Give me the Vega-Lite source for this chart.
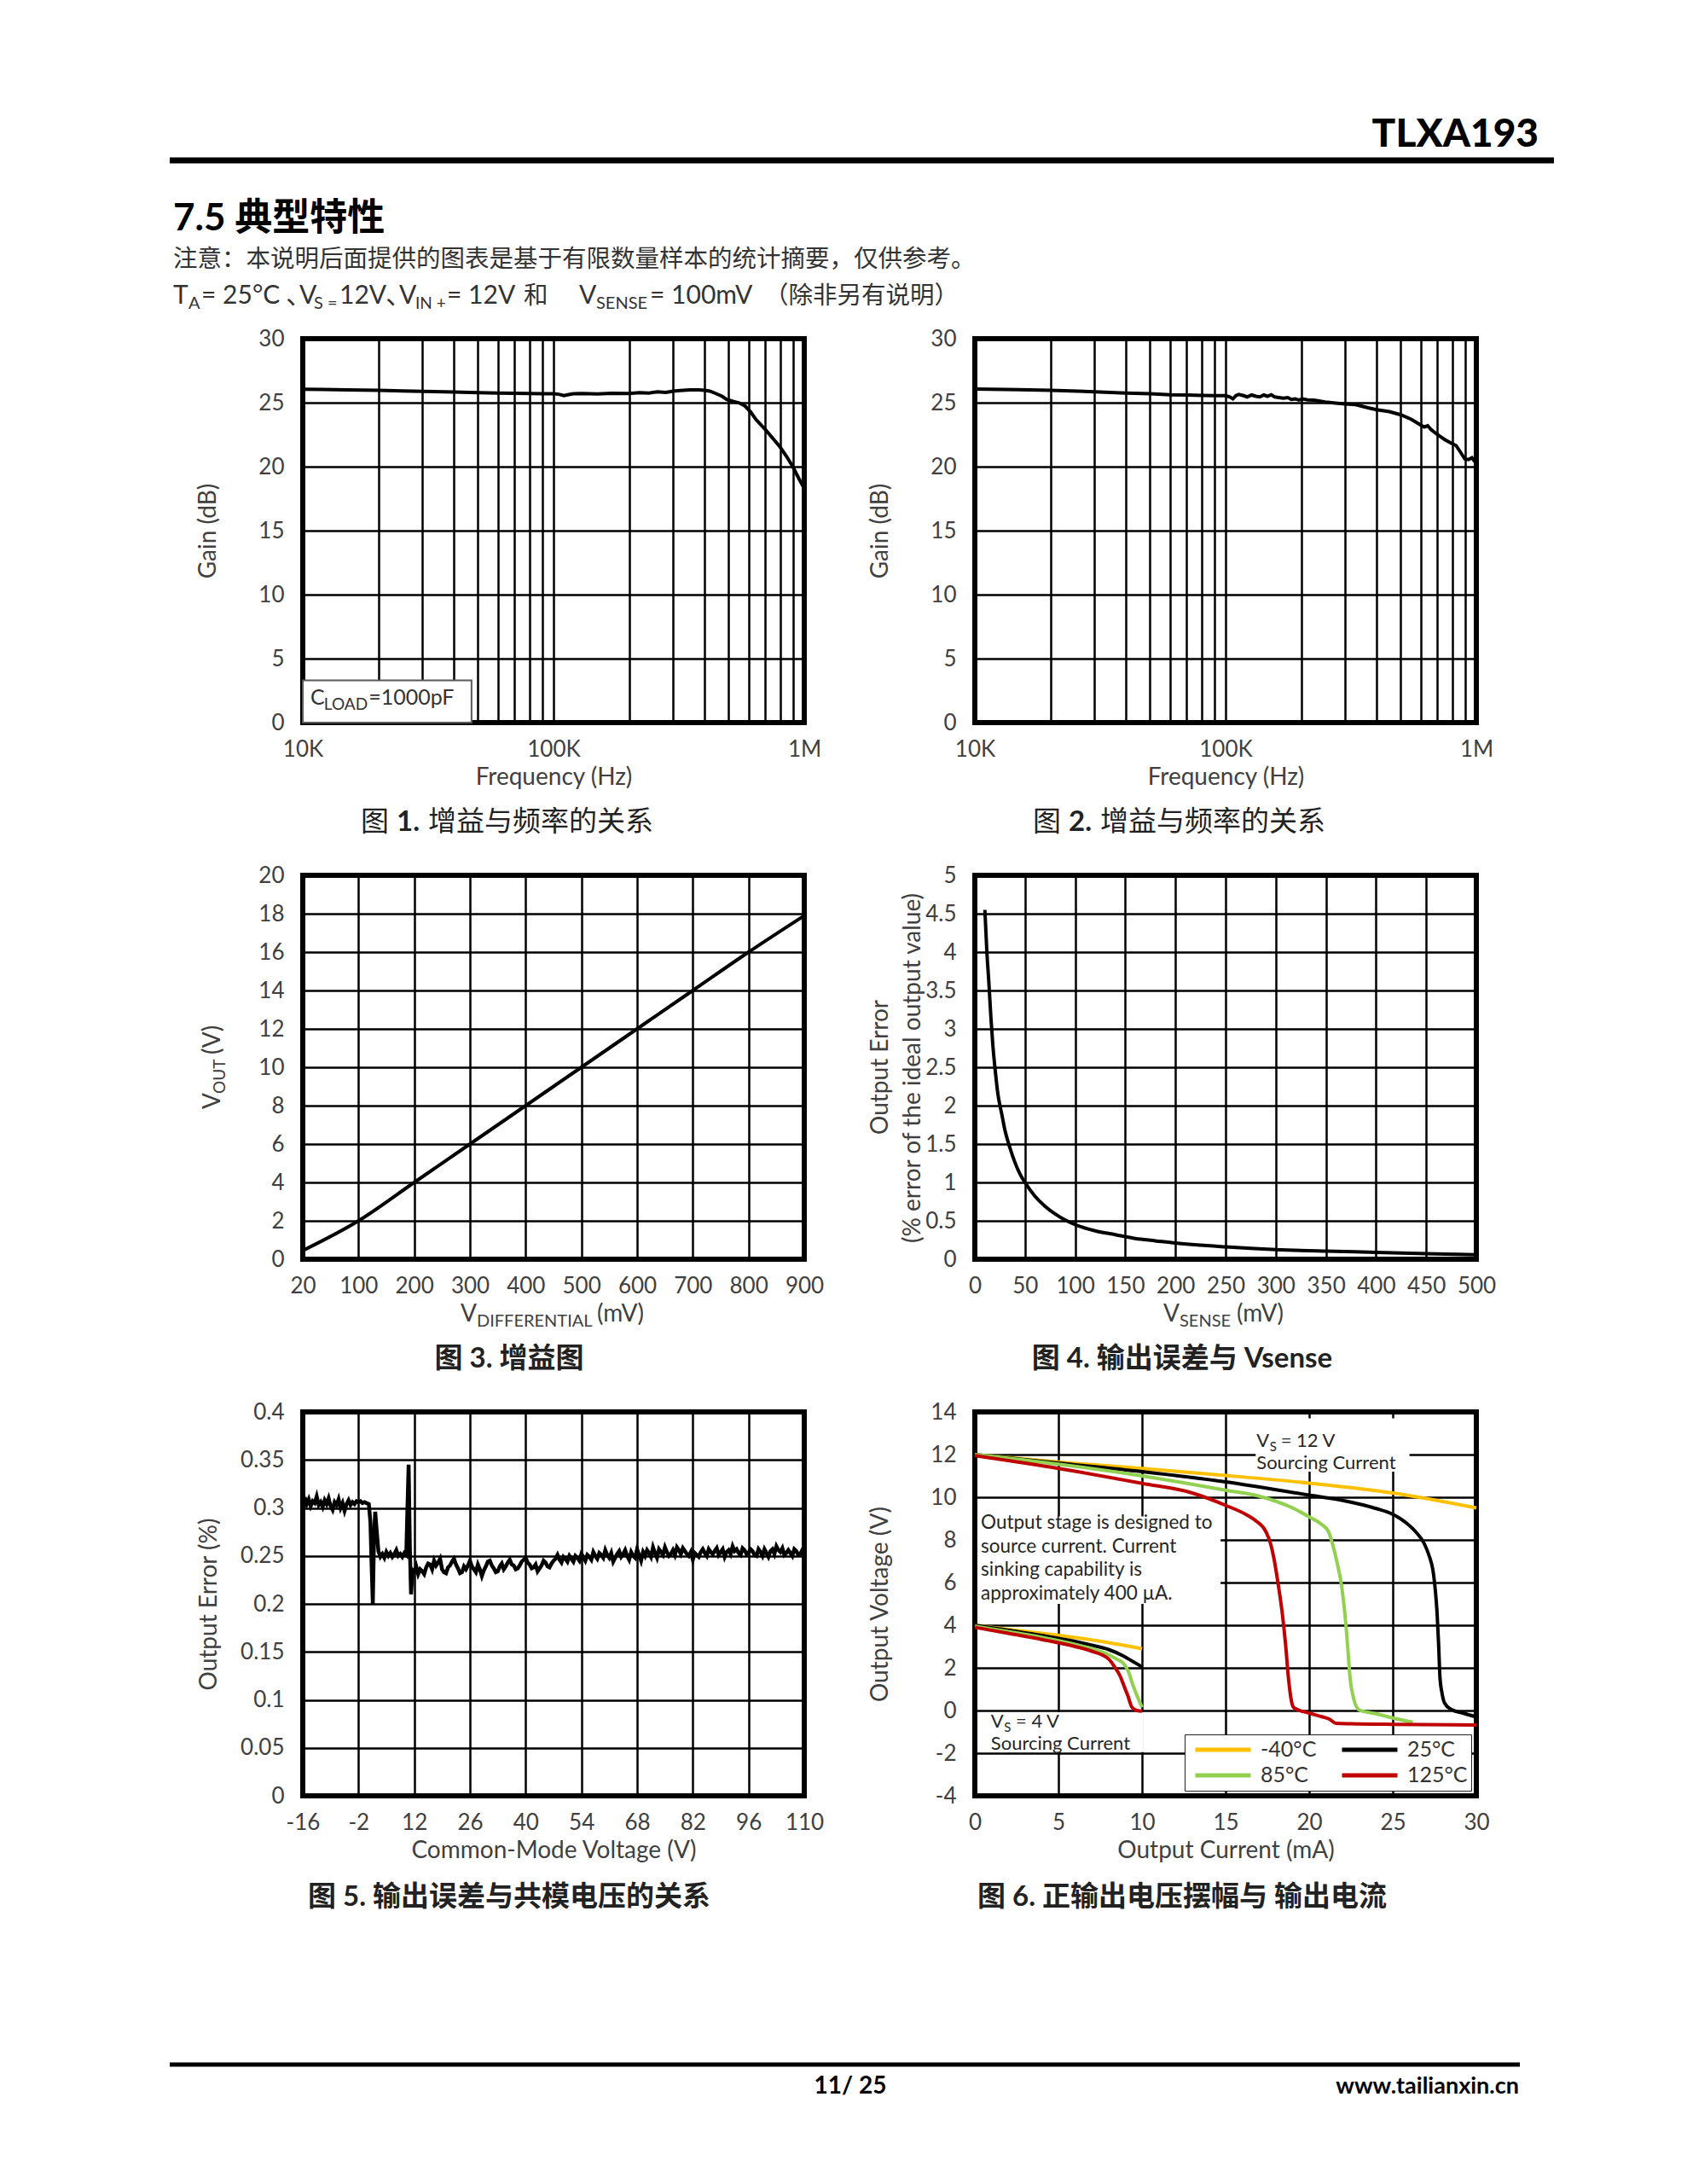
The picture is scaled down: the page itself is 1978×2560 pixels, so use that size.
{
 "$schema": "https://vega.github.io/schema/vega-lite/v6.json",
 "background": "white",
 "autosize": {"type": "none"},
 "padding": {"left": 355, "top": 397, "right": 1623, "bottom": 2163},
 "bounds": "flush",
 "columns": 2,
 "spacing": {"row": 179, "column": 200},
 "resolve": {"scale": {"color": "independent"}, "legend": {"color": "independent"}},
 "config": {
  "font": "Lato, Noto Sans CJK SC",
  "view": {"stroke": "black", "strokeWidth": 6},
  "axis": {"grid": true, "gridColor": "black", "gridWidth": 2.5, "gridOpacity": 1, "domain": false, "ticks": false, "tickSize": 0, "labelFont": "Lato", "labelFontSize": 26, "labelColor": "#404040", "labelPadding": 22, "labelOverlap": false, "labelFlush": false, "labelBound": false, "titleFont": "Lato", "titleFontSize": 28, "titleColor": "#404040", "titleFontWeight": "normal", "titlePadding": 0},
  "axisX": {"labelPadding": 18, "titlePadding": 6},
  "legend": {"labelFont": "Lato"}
 },
 "datasets": {
  "fig1": [{"frequency_hz":10000,"gain_db":26.05},{"frequency_hz":12000,"gain_db":26.03},{"frequency_hz":15000,"gain_db":26.0},{"frequency_hz":20000,"gain_db":25.97},{"frequency_hz":25000,"gain_db":25.92},{"frequency_hz":30000,"gain_db":25.88},{"frequency_hz":40000,"gain_db":25.83},{"frequency_hz":50000,"gain_db":25.78},{"frequency_hz":60000,"gain_db":25.75},{"frequency_hz":70000,"gain_db":25.73},{"frequency_hz":80000,"gain_db":25.72},{"frequency_hz":90000,"gain_db":25.7},{"frequency_hz":100000,"gain_db":25.7},{"frequency_hz":105000,"gain_db":25.66},{"frequency_hz":110000,"gain_db":25.55},{"frequency_hz":115000,"gain_db":25.63},{"frequency_hz":120000,"gain_db":25.7},{"frequency_hz":130000,"gain_db":25.72},{"frequency_hz":150000,"gain_db":25.69},{"frequency_hz":170000,"gain_db":25.74},{"frequency_hz":200000,"gain_db":25.72},{"frequency_hz":220000,"gain_db":25.78},{"frequency_hz":240000,"gain_db":25.75},{"frequency_hz":260000,"gain_db":25.85},{"frequency_hz":280000,"gain_db":25.8},{"frequency_hz":300000,"gain_db":25.9},{"frequency_hz":320000,"gain_db":25.95},{"frequency_hz":350000,"gain_db":26.0},{"frequency_hz":380000,"gain_db":26.0},{"frequency_hz":400000,"gain_db":25.97},{"frequency_hz":420000,"gain_db":25.9},{"frequency_hz":440000,"gain_db":25.75},{"frequency_hz":470000,"gain_db":25.5},{"frequency_hz":490000,"gain_db":25.25},{"frequency_hz":520000,"gain_db":25.1},{"frequency_hz":550000,"gain_db":24.98},{"frequency_hz":580000,"gain_db":24.75},{"frequency_hz":610000,"gain_db":24.3},{"frequency_hz":643000,"gain_db":23.66},{"frequency_hz":700000,"gain_db":22.9},{"frequency_hz":750000,"gain_db":22.2},{"frequency_hz":800000,"gain_db":21.55},{"frequency_hz":850000,"gain_db":20.8},{"frequency_hz":900000,"gain_db":20.0},{"frequency_hz":950000,"gain_db":19.1},{"frequency_hz":1000000,"gain_db":18.3}],
  "fig2": [{"frequency_hz":10000,"gain_db":26.07},{"frequency_hz":15000,"gain_db":26.02},{"frequency_hz":20000,"gain_db":25.97},{"frequency_hz":30000,"gain_db":25.85},{"frequency_hz":40000,"gain_db":25.75},{"frequency_hz":50000,"gain_db":25.7},{"frequency_hz":60000,"gain_db":25.62},{"frequency_hz":70000,"gain_db":25.6},{"frequency_hz":80000,"gain_db":25.57},{"frequency_hz":90000,"gain_db":25.55},{"frequency_hz":100000,"gain_db":25.55},{"frequency_hz":104000,"gain_db":25.45},{"frequency_hz":107000,"gain_db":25.3},{"frequency_hz":110000,"gain_db":25.55},{"frequency_hz":113000,"gain_db":25.65},{"frequency_hz":118000,"gain_db":25.55},{"frequency_hz":122000,"gain_db":25.45},{"frequency_hz":127000,"gain_db":25.6},{"frequency_hz":132000,"gain_db":25.5},{"frequency_hz":137000,"gain_db":25.45},{"frequency_hz":142000,"gain_db":25.6},{"frequency_hz":147000,"gain_db":25.5},{"frequency_hz":152000,"gain_db":25.62},{"frequency_hz":157000,"gain_db":25.45},{"frequency_hz":163000,"gain_db":25.4},{"frequency_hz":170000,"gain_db":25.35},{"frequency_hz":177000,"gain_db":25.4},{"frequency_hz":183000,"gain_db":25.25},{"frequency_hz":190000,"gain_db":25.3},{"frequency_hz":196000,"gain_db":25.2},{"frequency_hz":203000,"gain_db":25.3},{"frequency_hz":212000,"gain_db":25.22},{"frequency_hz":225000,"gain_db":25.2},{"frequency_hz":250000,"gain_db":25.05},{"frequency_hz":280000,"gain_db":24.95},{"frequency_hz":300000,"gain_db":24.9},{"frequency_hz":330000,"gain_db":24.85},{"frequency_hz":370000,"gain_db":24.6},{"frequency_hz":400000,"gain_db":24.45},{"frequency_hz":450000,"gain_db":24.3},{"frequency_hz":500000,"gain_db":24.05},{"frequency_hz":550000,"gain_db":23.7},{"frequency_hz":600000,"gain_db":23.25},{"frequency_hz":620000,"gain_db":23.1},{"frequency_hz":640000,"gain_db":23.2},{"frequency_hz":660000,"gain_db":22.9},{"frequency_hz":700000,"gain_db":22.5},{"frequency_hz":750000,"gain_db":22.1},{"frequency_hz":800000,"gain_db":21.8},{"frequency_hz":830000,"gain_db":21.65},{"frequency_hz":860000,"gain_db":21.2},{"frequency_hz":900000,"gain_db":20.6},{"frequency_hz":930000,"gain_db":20.55},{"frequency_hz":960000,"gain_db":20.7},{"frequency_hz":1000000,"gain_db":20.25}],
  "fig3": [{"v_diff_mv":20,"vout_v":0.45},{"v_diff_mv":100,"vout_v":2.0},{"v_diff_mv":200,"vout_v":4.0},{"v_diff_mv":300,"vout_v":6.0},{"v_diff_mv":400,"vout_v":8.0},{"v_diff_mv":500,"vout_v":10.0},{"v_diff_mv":600,"vout_v":12.0},{"v_diff_mv":700,"vout_v":14.0},{"v_diff_mv":800,"vout_v":16.0},{"v_diff_mv":900,"vout_v":17.9}],
  "fig4": [{"vsense_mv":10,"error_pct":4.55},{"vsense_mv":12,"error_pct":4.0},{"vsense_mv":14,"error_pct":3.6},{"vsense_mv":16,"error_pct":3.15},{"vsense_mv":18,"error_pct":2.78},{"vsense_mv":20,"error_pct":2.5},{"vsense_mv":23,"error_pct":2.15},{"vsense_mv":27,"error_pct":1.88},{"vsense_mv":30,"error_pct":1.68},{"vsense_mv":35,"error_pct":1.45},{"vsense_mv":40,"error_pct":1.26},{"vsense_mv":45,"error_pct":1.11},{"vsense_mv":50,"error_pct":1.0},{"vsense_mv":60,"error_pct":0.82},{"vsense_mv":70,"error_pct":0.69},{"vsense_mv":80,"error_pct":0.59},{"vsense_mv":90,"error_pct":0.51},{"vsense_mv":100,"error_pct":0.45},{"vsense_mv":120,"error_pct":0.37},{"vsense_mv":140,"error_pct":0.32},{"vsense_mv":160,"error_pct":0.27},{"vsense_mv":180,"error_pct":0.24},{"vsense_mv":200,"error_pct":0.21},{"vsense_mv":250,"error_pct":0.16},{"vsense_mv":300,"error_pct":0.125},{"vsense_mv":350,"error_pct":0.105},{"vsense_mv":400,"error_pct":0.09},{"vsense_mv":450,"error_pct":0.073},{"vsense_mv":500,"error_pct":0.058}],
  "fig5": [{"cm_v":-16,"error_pct":0.3},{"cm_v":-15.5,"error_pct":0.311},{"cm_v":-15,"error_pct":0.304},{"cm_v":-14.5,"error_pct":0.309},{"cm_v":-14,"error_pct":0.302},{"cm_v":-13.5,"error_pct":0.307},{"cm_v":-13,"error_pct":0.305},{"cm_v":-12.5,"error_pct":0.312},{"cm_v":-12,"error_pct":0.303},{"cm_v":-11.5,"error_pct":0.306},{"cm_v":-11,"error_pct":0.301},{"cm_v":-10.5,"error_pct":0.308},{"cm_v":-10,"error_pct":0.304},{"cm_v":-9.5,"error_pct":0.31},{"cm_v":-9,"error_pct":0.302},{"cm_v":-8.5,"error_pct":0.298},{"cm_v":-8,"error_pct":0.306},{"cm_v":-7.5,"error_pct":0.303},{"cm_v":-7,"error_pct":0.309},{"cm_v":-6.5,"error_pct":0.3},{"cm_v":-6,"error_pct":0.305},{"cm_v":-5.5,"error_pct":0.297},{"cm_v":-5,"error_pct":0.304},{"cm_v":-4.5,"error_pct":0.308},{"cm_v":-4,"error_pct":0.303},{"cm_v":-3.5,"error_pct":0.306},{"cm_v":-3,"error_pct":0.304},{"cm_v":-2.5,"error_pct":0.307},{"cm_v":-2,"error_pct":0.306},{"cm_v":-1.5,"error_pct":0.307},{"cm_v":-1,"error_pct":0.305},{"cm_v":-0.5,"error_pct":0.306},{"cm_v":0,"error_pct":0.305},{"cm_v":0.6,"error_pct":0.304},{"cm_v":1.0,"error_pct":0.285},{"cm_v":1.3,"error_pct":0.24},{"cm_v":1.6,"error_pct":0.2},{"cm_v":1.9,"error_pct":0.27},{"cm_v":2.2,"error_pct":0.296},{"cm_v":2.6,"error_pct":0.275},{"cm_v":3.0,"error_pct":0.255},{"cm_v":3.5,"error_pct":0.249},{"cm_v":4,"error_pct":0.252},{"cm_v":4.5,"error_pct":0.248},{"cm_v":5,"error_pct":0.254},{"cm_v":5.5,"error_pct":0.25},{"cm_v":6,"error_pct":0.253},{"cm_v":6.5,"error_pct":0.249},{"cm_v":7,"error_pct":0.252},{"cm_v":7.5,"error_pct":0.256},{"cm_v":8,"error_pct":0.25},{"cm_v":8.5,"error_pct":0.252},{"cm_v":9,"error_pct":0.249},{"cm_v":9.5,"error_pct":0.253},{"cm_v":10,"error_pct":0.251},{"cm_v":10.3,"error_pct":0.3},{"cm_v":10.6,"error_pct":0.345},{"cm_v":10.9,"error_pct":0.26},{"cm_v":11.2,"error_pct":0.21},{"cm_v":11.6,"error_pct":0.235},{"cm_v":12,"error_pct":0.233},{"cm_v":12.5,"error_pct":0.239},{"cm_v":13,"error_pct":0.231},{"cm_v":13.5,"error_pct":0.236},{"cm_v":14,"error_pct":0.234},{"cm_v":14.5,"error_pct":0.231},{"cm_v":15,"error_pct":0.238},{"cm_v":15.5,"error_pct":0.242},{"cm_v":16,"error_pct":0.241},{"cm_v":16.5,"error_pct":0.236},{"cm_v":17,"error_pct":0.245},{"cm_v":17.5,"error_pct":0.24},{"cm_v":18,"error_pct":0.243},{"cm_v":18.5,"error_pct":0.247},{"cm_v":19,"error_pct":0.236},{"cm_v":19.5,"error_pct":0.233},{"cm_v":20,"error_pct":0.232},{"cm_v":20.5,"error_pct":0.238},{"cm_v":21,"error_pct":0.24},{"cm_v":21.5,"error_pct":0.244},{"cm_v":22,"error_pct":0.247},{"cm_v":22.5,"error_pct":0.241},{"cm_v":23,"error_pct":0.237},{"cm_v":23.5,"error_pct":0.232},{"cm_v":24,"error_pct":0.233},{"cm_v":24.5,"error_pct":0.239},{"cm_v":25,"error_pct":0.236},{"cm_v":25.5,"error_pct":0.24},{"cm_v":26,"error_pct":0.245},{"cm_v":26.5,"error_pct":0.239},{"cm_v":27,"error_pct":0.236},{"cm_v":27.5,"error_pct":0.233},{"cm_v":28,"error_pct":0.241},{"cm_v":28.5,"error_pct":0.236},{"cm_v":29,"error_pct":0.229},{"cm_v":29.5,"error_pct":0.235},{"cm_v":30,"error_pct":0.239},{"cm_v":30.5,"error_pct":0.244},{"cm_v":31,"error_pct":0.245},{"cm_v":31.5,"error_pct":0.24},{"cm_v":32,"error_pct":0.237},{"cm_v":32.5,"error_pct":0.233},{"cm_v":33,"error_pct":0.234},{"cm_v":33.5,"error_pct":0.239},{"cm_v":34,"error_pct":0.242},{"cm_v":34.5,"error_pct":0.236},{"cm_v":35,"error_pct":0.239},{"cm_v":35.5,"error_pct":0.243},{"cm_v":36,"error_pct":0.246},{"cm_v":36.5,"error_pct":0.241},{"cm_v":37,"error_pct":0.24},{"cm_v":37.5,"error_pct":0.236},{"cm_v":38,"error_pct":0.237},{"cm_v":38.5,"error_pct":0.24},{"cm_v":39,"error_pct":0.244},{"cm_v":39.5,"error_pct":0.246},{"cm_v":40,"error_pct":0.248},{"cm_v":40.5,"error_pct":0.243},{"cm_v":41,"error_pct":0.241},{"cm_v":41.5,"error_pct":0.237},{"cm_v":42,"error_pct":0.238},{"cm_v":42.5,"error_pct":0.241},{"cm_v":43,"error_pct":0.234},{"cm_v":43.5,"error_pct":0.237},{"cm_v":44,"error_pct":0.24},{"cm_v":44.5,"error_pct":0.245},{"cm_v":45,"error_pct":0.243},{"cm_v":45.5,"error_pct":0.239},{"cm_v":46,"error_pct":0.238},{"cm_v":46.5,"error_pct":0.242},{"cm_v":47,"error_pct":0.245},{"cm_v":47.5,"error_pct":0.247},{"cm_v":48,"error_pct":0.251},{"cm_v":48.5,"error_pct":0.246},{"cm_v":49,"error_pct":0.243},{"cm_v":49.5,"error_pct":0.249},{"cm_v":50,"error_pct":0.247},{"cm_v":50.5,"error_pct":0.244},{"cm_v":51,"error_pct":0.25},{"cm_v":51.5,"error_pct":0.247},{"cm_v":52,"error_pct":0.244},{"cm_v":52.5,"error_pct":0.25},{"cm_v":53,"error_pct":0.248},{"cm_v":53.5,"error_pct":0.245},{"cm_v":54,"error_pct":0.252},{"cm_v":54.5,"error_pct":0.249},{"cm_v":55,"error_pct":0.245},{"cm_v":55.5,"error_pct":0.251},{"cm_v":56,"error_pct":0.249},{"cm_v":56.5,"error_pct":0.246},{"cm_v":57,"error_pct":0.254},{"cm_v":57.5,"error_pct":0.25},{"cm_v":58,"error_pct":0.247},{"cm_v":58.5,"error_pct":0.253},{"cm_v":59,"error_pct":0.251},{"cm_v":59.5,"error_pct":0.248},{"cm_v":60,"error_pct":0.256},{"cm_v":60.5,"error_pct":0.251},{"cm_v":61,"error_pct":0.248},{"cm_v":61.5,"error_pct":0.253},{"cm_v":62,"error_pct":0.244},{"cm_v":62.5,"error_pct":0.248},{"cm_v":63,"error_pct":0.252},{"cm_v":63.5,"error_pct":0.255},{"cm_v":64,"error_pct":0.249},{"cm_v":64.5,"error_pct":0.252},{"cm_v":65,"error_pct":0.256},{"cm_v":65.5,"error_pct":0.25},{"cm_v":66,"error_pct":0.246},{"cm_v":66.5,"error_pct":0.254},{"cm_v":67,"error_pct":0.25},{"cm_v":67.5,"error_pct":0.248},{"cm_v":68,"error_pct":0.257},{"cm_v":68.5,"error_pct":0.251},{"cm_v":69,"error_pct":0.245},{"cm_v":69.5,"error_pct":0.254},{"cm_v":70,"error_pct":0.25},{"cm_v":70.5,"error_pct":0.256},{"cm_v":71,"error_pct":0.253},{"cm_v":71.5,"error_pct":0.249},{"cm_v":72,"error_pct":0.259},{"cm_v":72.5,"error_pct":0.253},{"cm_v":73,"error_pct":0.248},{"cm_v":73.5,"error_pct":0.257},{"cm_v":74,"error_pct":0.254},{"cm_v":74.5,"error_pct":0.251},{"cm_v":75,"error_pct":0.259},{"cm_v":75.5,"error_pct":0.254},{"cm_v":76,"error_pct":0.25},{"cm_v":76.5,"error_pct":0.252},{"cm_v":77,"error_pct":0.256},{"cm_v":77.5,"error_pct":0.251},{"cm_v":78,"error_pct":0.259},{"cm_v":78.5,"error_pct":0.256},{"cm_v":79,"error_pct":0.252},{"cm_v":79.5,"error_pct":0.258},{"cm_v":80,"error_pct":0.255},{"cm_v":80.5,"error_pct":0.252},{"cm_v":81,"error_pct":0.25},{"cm_v":81.5,"error_pct":0.254},{"cm_v":82,"error_pct":0.246},{"cm_v":82.5,"error_pct":0.253},{"cm_v":83,"error_pct":0.251},{"cm_v":83.5,"error_pct":0.249},{"cm_v":84,"error_pct":0.254},{"cm_v":84.5,"error_pct":0.257},{"cm_v":85,"error_pct":0.253},{"cm_v":85.5,"error_pct":0.25},{"cm_v":86,"error_pct":0.257},{"cm_v":86.5,"error_pct":0.254},{"cm_v":87,"error_pct":0.252},{"cm_v":87.5,"error_pct":0.255},{"cm_v":88,"error_pct":0.258},{"cm_v":88.5,"error_pct":0.251},{"cm_v":89,"error_pct":0.254},{"cm_v":89.5,"error_pct":0.257},{"cm_v":90,"error_pct":0.249},{"cm_v":90.5,"error_pct":0.254},{"cm_v":91,"error_pct":0.256},{"cm_v":91.5,"error_pct":0.252},{"cm_v":92,"error_pct":0.26},{"cm_v":92.5,"error_pct":0.255},{"cm_v":93,"error_pct":0.257},{"cm_v":93.5,"error_pct":0.253},{"cm_v":94,"error_pct":0.251},{"cm_v":94.5,"error_pct":0.258},{"cm_v":95,"error_pct":0.256},{"cm_v":95.5,"error_pct":0.252},{"cm_v":96,"error_pct":0.253},{"cm_v":96.5,"error_pct":0.257},{"cm_v":97,"error_pct":0.255},{"cm_v":97.5,"error_pct":0.251},{"cm_v":98,"error_pct":0.25},{"cm_v":98.5,"error_pct":0.257},{"cm_v":99,"error_pct":0.254},{"cm_v":99.5,"error_pct":0.25},{"cm_v":100,"error_pct":0.257},{"cm_v":100.5,"error_pct":0.253},{"cm_v":101,"error_pct":0.249},{"cm_v":101.5,"error_pct":0.255},{"cm_v":102,"error_pct":0.257},{"cm_v":102.5,"error_pct":0.252},{"cm_v":103,"error_pct":0.26},{"cm_v":103.5,"error_pct":0.256},{"cm_v":104,"error_pct":0.254},{"cm_v":104.5,"error_pct":0.258},{"cm_v":105,"error_pct":0.251},{"cm_v":105.5,"error_pct":0.253},{"cm_v":106,"error_pct":0.256},{"cm_v":106.5,"error_pct":0.253},{"cm_v":107,"error_pct":0.25},{"cm_v":107.5,"error_pct":0.257},{"cm_v":108,"error_pct":0.255},{"cm_v":108.5,"error_pct":0.251},{"cm_v":109,"error_pct":0.252},{"cm_v":109.5,"error_pct":0.256},{"cm_v":110,"error_pct":0.254}],
  "fig6": [
   {"current_ma":0,"voltage_v":12.0,"temp":"-40°C","supply":"12 V"},{"current_ma":5,"voltage_v":11.65,"temp":"-40°C","supply":"12 V"},{"current_ma":10,"voltage_v":11.35,"temp":"-40°C","supply":"12 V"},{"current_ma":15,"voltage_v":11.02,"temp":"-40°C","supply":"12 V"},{"current_ma":20,"voltage_v":10.66,"temp":"-40°C","supply":"12 V"},{"current_ma":25,"voltage_v":10.2,"temp":"-40°C","supply":"12 V"},{"current_ma":30,"voltage_v":9.5,"temp":"-40°C","supply":"12 V"},
   {"current_ma":0,"voltage_v":12.0,"temp":"25°C","supply":"12 V"},{"current_ma":5,"voltage_v":11.6,"temp":"25°C","supply":"12 V"},{"current_ma":10,"voltage_v":11.2,"temp":"25°C","supply":"12 V"},{"current_ma":15,"voltage_v":10.72,"temp":"25°C","supply":"12 V"},{"current_ma":20,"voltage_v":10.1,"temp":"25°C","supply":"12 V"},{"current_ma":22,"voltage_v":9.85,"temp":"25°C","supply":"12 V"},{"current_ma":24,"voltage_v":9.47,"temp":"25°C","supply":"12 V"},{"current_ma":25,"voltage_v":9.2,"temp":"25°C","supply":"12 V"},{"current_ma":25.8,"voltage_v":8.8,"temp":"25°C","supply":"12 V"},{"current_ma":26.35,"voltage_v":8.4,"temp":"25°C","supply":"12 V"},{"current_ma":26.9,"voltage_v":7.8,"temp":"25°C","supply":"12 V"},{"current_ma":27.2,"voltage_v":7.2,"temp":"25°C","supply":"12 V"},{"current_ma":27.4,"voltage_v":6.6,"temp":"25°C","supply":"12 V"},{"current_ma":27.55,"voltage_v":5.6,"temp":"25°C","supply":"12 V"},{"current_ma":27.65,"voltage_v":4.6,"temp":"25°C","supply":"12 V"},{"current_ma":27.75,"voltage_v":3.0,"temp":"25°C","supply":"12 V"},{"current_ma":27.82,"voltage_v":1.6,"temp":"25°C","supply":"12 V"},{"current_ma":27.95,"voltage_v":0.8,"temp":"25°C","supply":"12 V"},{"current_ma":28.1,"voltage_v":0.35,"temp":"25°C","supply":"12 V"},{"current_ma":28.5,"voltage_v":0.05,"temp":"25°C","supply":"12 V"},{"current_ma":29.2,"voltage_v":-0.12,"temp":"25°C","supply":"12 V"},{"current_ma":30,"voltage_v":-0.3,"temp":"25°C","supply":"12 V"},
   {"current_ma":0,"voltage_v":12.0,"temp":"85°C","supply":"12 V"},{"current_ma":5,"voltage_v":11.55,"temp":"85°C","supply":"12 V"},{"current_ma":10,"voltage_v":11.0,"temp":"85°C","supply":"12 V"},{"current_ma":15,"voltage_v":10.33,"temp":"85°C","supply":"12 V"},{"current_ma":17,"voltage_v":10.05,"temp":"85°C","supply":"12 V"},{"current_ma":19,"voltage_v":9.5,"temp":"85°C","supply":"12 V"},{"current_ma":20,"voltage_v":9.08,"temp":"85°C","supply":"12 V"},{"current_ma":20.7,"voltage_v":8.75,"temp":"85°C","supply":"12 V"},{"current_ma":21.15,"voltage_v":8.4,"temp":"85°C","supply":"12 V"},{"current_ma":21.4,"voltage_v":7.8,"temp":"85°C","supply":"12 V"},{"current_ma":21.65,"voltage_v":7.0,"temp":"85°C","supply":"12 V"},{"current_ma":21.93,"voltage_v":5.9,"temp":"85°C","supply":"12 V"},{"current_ma":22.2,"voltage_v":4.0,"temp":"85°C","supply":"12 V"},{"current_ma":22.35,"voltage_v":2.5,"temp":"85°C","supply":"12 V"},{"current_ma":22.45,"voltage_v":1.5,"temp":"85°C","supply":"12 V"},{"current_ma":22.65,"voltage_v":0.6,"temp":"85°C","supply":"12 V"},{"current_ma":23.0,"voltage_v":0.02,"temp":"85°C","supply":"12 V"},{"current_ma":24.0,"voltage_v":-0.15,"temp":"85°C","supply":"12 V"},{"current_ma":25.0,"voltage_v":-0.35,"temp":"85°C","supply":"12 V"},{"current_ma":26.2,"voltage_v":-0.55,"temp":"85°C","supply":"12 V"},
   {"current_ma":0,"voltage_v":11.95,"temp":"125°C","supply":"12 V"},{"current_ma":5,"voltage_v":11.35,"temp":"125°C","supply":"12 V"},{"current_ma":10,"voltage_v":10.65,"temp":"125°C","supply":"12 V"},{"current_ma":13,"voltage_v":10.2,"temp":"125°C","supply":"12 V"},{"current_ma":15,"voltage_v":9.62,"temp":"125°C","supply":"12 V"},{"current_ma":16.2,"voltage_v":9.2,"temp":"125°C","supply":"12 V"},{"current_ma":16.8,"voltage_v":8.9,"temp":"125°C","supply":"12 V"},{"current_ma":17.4,"voltage_v":8.4,"temp":"125°C","supply":"12 V"},{"current_ma":17.7,"voltage_v":7.8,"temp":"125°C","supply":"12 V"},{"current_ma":17.9,"voltage_v":7.1,"temp":"125°C","supply":"12 V"},{"current_ma":18.15,"voltage_v":5.9,"temp":"125°C","supply":"12 V"},{"current_ma":18.4,"voltage_v":4.5,"temp":"125°C","supply":"12 V"},{"current_ma":18.6,"voltage_v":3.0,"temp":"125°C","supply":"12 V"},{"current_ma":18.75,"voltage_v":1.6,"temp":"125°C","supply":"12 V"},{"current_ma":18.95,"voltage_v":0.4,"temp":"125°C","supply":"12 V"},{"current_ma":19.1,"voltage_v":0.12,"temp":"125°C","supply":"12 V"},{"current_ma":20,"voltage_v":-0.12,"temp":"125°C","supply":"12 V"},{"current_ma":20.8,"voltage_v":-0.3,"temp":"125°C","supply":"12 V"},{"current_ma":21.2,"voltage_v":-0.4,"temp":"125°C","supply":"12 V"},{"current_ma":21.6,"voltage_v":-0.6,"temp":"125°C","supply":"12 V"},{"current_ma":22.5,"voltage_v":-0.62,"temp":"125°C","supply":"12 V"},{"current_ma":25,"voltage_v":-0.65,"temp":"125°C","supply":"12 V"},{"current_ma":30,"voltage_v":-0.68,"temp":"125°C","supply":"12 V"},
   {"current_ma":0,"voltage_v":4.0,"temp":"-40°C","supply":"4 V"},{"current_ma":2,"voltage_v":3.8,"temp":"-40°C","supply":"4 V"},{"current_ma":4,"voltage_v":3.62,"temp":"-40°C","supply":"4 V"},{"current_ma":6,"voltage_v":3.42,"temp":"-40°C","supply":"4 V"},{"current_ma":8,"voltage_v":3.18,"temp":"-40°C","supply":"4 V"},{"current_ma":10,"voltage_v":2.9,"temp":"-40°C","supply":"4 V"},
   {"current_ma":0,"voltage_v":4.0,"temp":"25°C","supply":"4 V"},{"current_ma":2,"voltage_v":3.76,"temp":"25°C","supply":"4 V"},{"current_ma":4,"voltage_v":3.52,"temp":"25°C","supply":"4 V"},{"current_ma":6,"voltage_v":3.24,"temp":"25°C","supply":"4 V"},{"current_ma":7,"voltage_v":3.06,"temp":"25°C","supply":"4 V"},{"current_ma":8,"voltage_v":2.86,"temp":"25°C","supply":"4 V"},{"current_ma":8.9,"voltage_v":2.55,"temp":"25°C","supply":"4 V"},{"current_ma":9.45,"voltage_v":2.3,"temp":"25°C","supply":"4 V"},{"current_ma":10,"voltage_v":2.05,"temp":"25°C","supply":"4 V"},
   {"current_ma":0,"voltage_v":3.95,"temp":"85°C","supply":"4 V"},{"current_ma":2,"voltage_v":3.7,"temp":"85°C","supply":"4 V"},{"current_ma":4,"voltage_v":3.43,"temp":"85°C","supply":"4 V"},{"current_ma":6,"voltage_v":3.1,"temp":"85°C","supply":"4 V"},{"current_ma":7,"voltage_v":2.9,"temp":"85°C","supply":"4 V"},{"current_ma":8,"voltage_v":2.62,"temp":"85°C","supply":"4 V"},{"current_ma":8.5,"voltage_v":2.4,"temp":"85°C","supply":"4 V"},{"current_ma":8.9,"voltage_v":2.2,"temp":"85°C","supply":"4 V"},{"current_ma":9.2,"voltage_v":1.8,"temp":"85°C","supply":"4 V"},{"current_ma":9.45,"voltage_v":1.2,"temp":"85°C","supply":"4 V"},{"current_ma":9.7,"voltage_v":0.7,"temp":"85°C","supply":"4 V"},{"current_ma":10,"voltage_v":0.15,"temp":"85°C","supply":"4 V"},
   {"current_ma":0,"voltage_v":3.9,"temp":"125°C","supply":"4 V"},{"current_ma":2,"voltage_v":3.62,"temp":"125°C","supply":"4 V"},{"current_ma":4,"voltage_v":3.33,"temp":"125°C","supply":"4 V"},{"current_ma":6,"voltage_v":3.0,"temp":"125°C","supply":"4 V"},{"current_ma":7,"voltage_v":2.78,"temp":"125°C","supply":"4 V"},{"current_ma":8,"voltage_v":2.42,"temp":"125°C","supply":"4 V"},{"current_ma":8.4,"voltage_v":2.0,"temp":"125°C","supply":"4 V"},{"current_ma":8.7,"voltage_v":1.6,"temp":"125°C","supply":"4 V"},{"current_ma":8.9,"voltage_v":1.2,"temp":"125°C","supply":"4 V"},{"current_ma":9.15,"voltage_v":0.7,"temp":"125°C","supply":"4 V"},{"current_ma":9.4,"voltage_v":0.15,"temp":"125°C","supply":"4 V"},{"current_ma":9.7,"voltage_v":0.0,"temp":"125°C","supply":"4 V"},{"current_ma":10,"voltage_v":-0.03,"temp":"125°C","supply":"4 V"}
  ]
 },
 "concat": [
  {
   "width": 588, "height": 450,
   "resolve": {"scale": {"x": "independent", "y": "independent"}},
   "layer": [
    {
     "layer": [
      {
       "data": {"name": "fig1"},
       "mark": {"type": "line", "color": "black", "strokeWidth": 4},
       "encoding": {
        "x": {"field": "frequency_hz", "type": "quantitative", "scale": {"type": "log", "domain": [10000, 1000000], "nice": false}, "axis": {"values": [10000,20000,30000,40000,50000,60000,70000,80000,90000,100000,200000,300000,400000,500000,600000,700000,800000,900000,1000000], "labelExpr": "datum.value == 10000 ? '10K' : datum.value == 100000 ? '100K' : datum.value == 1000000 ? '1M' : ''", "title": "Frequency (Hz)"}},
        "y": {"field": "gain_db", "type": "quantitative", "scale": {"domain": [0, 30], "nice": false}, "axis": {"values": [0,5,10,15,20,25,30], "title": "Gain (dB)", "titlePadding": 44}}
       }
      },
      {
       "data": {"values": [{}]},
       "mark": {"type": "rect", "fill": "white", "stroke": "#595959", "strokeWidth": 2},
       "encoding": {"x": {"datum": 10000}, "x2": {"datum": 47100}, "y": {"datum": 0}, "y2": {"datum": 3.3}}
      },
      {
       "data": {"values": [{}]},
       "mark": {"type": "text", "text": "C", "align": "left", "baseline": "alphabetic", "fontSize": 25, "font": "Lato", "color": "#333333"},
       "encoding": {"x": {"datum": 10729}, "y": {"datum": 1.39}}
      },
      {
       "data": {"values": [{}]},
       "mark": {"type": "text", "text": "LOAD", "align": "left", "baseline": "alphabetic", "fontSize": 19, "font": "Lato", "color": "#333333"},
       "encoding": {"x": {"datum": 12150}, "y": {"datum": 1.0}}
      },
      {
       "data": {"values": [{}]},
       "mark": {"type": "text", "text": "=1000pF", "align": "left", "baseline": "alphabetic", "fontSize": 25, "font": "Lato", "color": "#333333"},
       "encoding": {"x": {"datum": 18300}, "y": {"datum": 1.39}}
      }
     ]
    },
    {
     "data": {"values": [{}]},
     "layer": [
      {"mark": {"type": "text", "text": "TLXA193", "align": "right", "baseline": "middle", "fontSize": 46, "fontWeight": 900, "font": "Lato", "color": "black"},
       "encoding": {"x": {"datum": 1804, "type": "quantitative", "scale": {"domain": [0, 1978], "range": [-355, 1623], "nice": false, "zero": false}, "axis": null}, "y": {"datum": 158, "type": "quantitative", "scale": {"domain": [0, 2560], "range": [-397, 2163], "nice": false, "zero": false}, "axis": null}}},
      {"mark": {"type": "rule", "color": "black", "strokeWidth": 7},
       "encoding": {"x": {"datum": 199, "type": "quantitative", "scale": {"domain": [0, 1978], "range": [-355, 1623], "nice": false, "zero": false}, "axis": null}, "x2": {"datum": 1822}, "y": {"datum": 188, "type": "quantitative", "scale": {"domain": [0, 2560], "range": [-397, 2163], "nice": false, "zero": false}, "axis": null}}},
      {"mark": {"type": "text", "text": "7.5 典型特性", "align": "left", "baseline": "middle", "fontSize": 44, "fontWeight": "bold", "font": "Lato, Noto Sans CJK SC", "color": "black"},
       "encoding": {"x": {"datum": 203, "type": "quantitative", "scale": {"domain": [0, 1978], "range": [-355, 1623], "nice": false, "zero": false}, "axis": null}, "y": {"datum": 257, "type": "quantitative", "scale": {"domain": [0, 2560], "range": [-397, 2163], "nice": false, "zero": false}, "axis": null}}},
      {"mark": {"type": "text", "text": "注意：本说明后面提供的图表是基于有限数量样本的统计摘要，仅供参考。", "align": "left", "baseline": "middle", "fontSize": 28.5, "font": "Noto Sans CJK SC", "color": "#333333"},
       "encoding": {"x": {"datum": 203, "type": "quantitative", "scale": {"domain": [0, 1978], "range": [-355, 1623], "nice": false, "zero": false}, "axis": null}, "y": {"datum": 304, "type": "quantitative", "scale": {"domain": [0, 2560], "range": [-397, 2163], "nice": false, "zero": false}, "axis": null}}},
      {"mark": {"type": "text", "text": "T", "align": "left", "baseline": "alphabetic", "fontSize": 30, "font": "Lato", "color": "#333333"},
       "encoding": {"x": {"datum": 203, "type": "quantitative", "scale": {"domain": [0, 1978], "range": [-355, 1623], "nice": false, "zero": false}, "axis": null}, "y": {"datum": 356, "type": "quantitative", "scale": {"domain": [0, 2560], "range": [-397, 2163], "nice": false, "zero": false}, "axis": null}}},
      {"mark": {"type": "text", "text": "A", "align": "left", "baseline": "alphabetic", "fontSize": 20, "font": "Lato", "color": "#333333"},
       "encoding": {"x": {"datum": 221, "type": "quantitative", "scale": {"domain": [0, 1978], "range": [-355, 1623], "nice": false, "zero": false}, "axis": null}, "y": {"datum": 362, "type": "quantitative", "scale": {"domain": [0, 2560], "range": [-397, 2163], "nice": false, "zero": false}, "axis": null}}},
      {"mark": {"type": "text", "text": "= 25°C ､V", "align": "left", "baseline": "alphabetic", "fontSize": 30, "font": "Lato, Noto Sans CJK SC", "color": "#333333"},
       "encoding": {"x": {"datum": 236, "type": "quantitative", "scale": {"domain": [0, 1978], "range": [-355, 1623], "nice": false, "zero": false}, "axis": null}, "y": {"datum": 356, "type": "quantitative", "scale": {"domain": [0, 2560], "range": [-397, 2163], "nice": false, "zero": false}, "axis": null}}},
      {"mark": {"type": "text", "text": "S =", "align": "left", "baseline": "alphabetic", "fontSize": 20, "font": "Lato", "color": "#333333"},
       "encoding": {"x": {"datum": 368, "type": "quantitative", "scale": {"domain": [0, 1978], "range": [-355, 1623], "nice": false, "zero": false}, "axis": null}, "y": {"datum": 362, "type": "quantitative", "scale": {"domain": [0, 2560], "range": [-397, 2163], "nice": false, "zero": false}, "axis": null}}},
      {"mark": {"type": "text", "text": "12V､V", "align": "left", "baseline": "alphabetic", "fontSize": 30, "font": "Lato, Noto Sans CJK SC", "color": "#333333"},
       "encoding": {"x": {"datum": 398, "type": "quantitative", "scale": {"domain": [0, 1978], "range": [-355, 1623], "nice": false, "zero": false}, "axis": null}, "y": {"datum": 356, "type": "quantitative", "scale": {"domain": [0, 2560], "range": [-397, 2163], "nice": false, "zero": false}, "axis": null}}},
      {"mark": {"type": "text", "text": "IN +", "align": "left", "baseline": "alphabetic", "fontSize": 19, "font": "Lato", "color": "#333333"},
       "encoding": {"x": {"datum": 487, "type": "quantitative", "scale": {"domain": [0, 1978], "range": [-355, 1623], "nice": false, "zero": false}, "axis": null}, "y": {"datum": 362, "type": "quantitative", "scale": {"domain": [0, 2560], "range": [-397, 2163], "nice": false, "zero": false}, "axis": null}}},
      {"mark": {"type": "text", "text": "= 12V", "align": "left", "baseline": "alphabetic", "fontSize": 30, "font": "Lato", "color": "#333333"},
       "encoding": {"x": {"datum": 524, "type": "quantitative", "scale": {"domain": [0, 1978], "range": [-355, 1623], "nice": false, "zero": false}, "axis": null}, "y": {"datum": 356, "type": "quantitative", "scale": {"domain": [0, 2560], "range": [-397, 2163], "nice": false, "zero": false}, "axis": null}}},
      {"mark": {"type": "text", "text": "和", "align": "left", "baseline": "alphabetic", "fontSize": 28.5, "font": "Noto Sans CJK SC", "color": "#333333"},
       "encoding": {"x": {"datum": 614, "type": "quantitative", "scale": {"domain": [0, 1978], "range": [-355, 1623], "nice": false, "zero": false}, "axis": null}, "y": {"datum": 356, "type": "quantitative", "scale": {"domain": [0, 2560], "range": [-397, 2163], "nice": false, "zero": false}, "axis": null}}},
      {"mark": {"type": "text", "text": "V", "align": "left", "baseline": "alphabetic", "fontSize": 30, "font": "Lato", "color": "#333333"},
       "encoding": {"x": {"datum": 679, "type": "quantitative", "scale": {"domain": [0, 1978], "range": [-355, 1623], "nice": false, "zero": false}, "axis": null}, "y": {"datum": 356, "type": "quantitative", "scale": {"domain": [0, 2560], "range": [-397, 2163], "nice": false, "zero": false}, "axis": null}}},
      {"mark": {"type": "text", "text": "SENSE", "align": "left", "baseline": "alphabetic", "fontSize": 20, "font": "Lato", "color": "#333333"},
       "encoding": {"x": {"datum": 699, "type": "quantitative", "scale": {"domain": [0, 1978], "range": [-355, 1623], "nice": false, "zero": false}, "axis": null}, "y": {"datum": 362, "type": "quantitative", "scale": {"domain": [0, 2560], "range": [-397, 2163], "nice": false, "zero": false}, "axis": null}}},
      {"mark": {"type": "text", "text": "= 100mV", "align": "left", "baseline": "alphabetic", "fontSize": 30, "font": "Lato", "color": "#333333"},
       "encoding": {"x": {"datum": 762, "type": "quantitative", "scale": {"domain": [0, 1978], "range": [-355, 1623], "nice": false, "zero": false}, "axis": null}, "y": {"datum": 356, "type": "quantitative", "scale": {"domain": [0, 2560], "range": [-397, 2163], "nice": false, "zero": false}, "axis": null}}},
      {"mark": {"type": "text", "text": "（除非另有说明）", "align": "left", "baseline": "alphabetic", "fontSize": 28.5, "font": "Noto Sans CJK SC", "color": "#333333"},
       "encoding": {"x": {"datum": 896, "type": "quantitative", "scale": {"domain": [0, 1978], "range": [-355, 1623], "nice": false, "zero": false}, "axis": null}, "y": {"datum": 356, "type": "quantitative", "scale": {"domain": [0, 2560], "range": [-397, 2163], "nice": false, "zero": false}, "axis": null}}},
      {"mark": {"type": "text", "text": "图", "align": "left", "baseline": "middle", "fontSize": 33, "font": "Noto Sans CJK SC", "color": "#222222"},
       "encoding": {"x": {"datum": 423, "type": "quantitative", "scale": {"domain": [0, 1978], "range": [-355, 1623], "nice": false, "zero": false}, "axis": null}, "y": {"datum": 964, "type": "quantitative", "scale": {"domain": [0, 2560], "range": [-397, 2163], "nice": false, "zero": false}, "axis": null}}},
      {"mark": {"type": "text", "text": "1.", "align": "left", "baseline": "middle", "fontSize": 33, "fontWeight": "bold", "font": "Lato", "color": "#222222"},
       "encoding": {"x": {"datum": 465, "type": "quantitative", "scale": {"domain": [0, 1978], "range": [-355, 1623], "nice": false, "zero": false}, "axis": null}, "y": {"datum": 964, "type": "quantitative", "scale": {"domain": [0, 2560], "range": [-397, 2163], "nice": false, "zero": false}, "axis": null}}},
      {"mark": {"type": "text", "text": "增益与频率的关系", "align": "left", "baseline": "middle", "fontSize": 33, "font": "Noto Sans CJK SC", "color": "#222222"},
       "encoding": {"x": {"datum": 502, "type": "quantitative", "scale": {"domain": [0, 1978], "range": [-355, 1623], "nice": false, "zero": false}, "axis": null}, "y": {"datum": 964, "type": "quantitative", "scale": {"domain": [0, 2560], "range": [-397, 2163], "nice": false, "zero": false}, "axis": null}}},
      {"mark": {"type": "text", "text": "图", "align": "left", "baseline": "middle", "fontSize": 33, "font": "Noto Sans CJK SC", "color": "#222222"},
       "encoding": {"x": {"datum": 1211, "type": "quantitative", "scale": {"domain": [0, 1978], "range": [-355, 1623], "nice": false, "zero": false}, "axis": null}, "y": {"datum": 964, "type": "quantitative", "scale": {"domain": [0, 2560], "range": [-397, 2163], "nice": false, "zero": false}, "axis": null}}},
      {"mark": {"type": "text", "text": "2.", "align": "left", "baseline": "middle", "fontSize": 33, "fontWeight": "bold", "font": "Lato", "color": "#222222"},
       "encoding": {"x": {"datum": 1253, "type": "quantitative", "scale": {"domain": [0, 1978], "range": [-355, 1623], "nice": false, "zero": false}, "axis": null}, "y": {"datum": 964, "type": "quantitative", "scale": {"domain": [0, 2560], "range": [-397, 2163], "nice": false, "zero": false}, "axis": null}}},
      {"mark": {"type": "text", "text": "增益与频率的关系", "align": "left", "baseline": "middle", "fontSize": 33, "font": "Noto Sans CJK SC", "color": "#222222"},
       "encoding": {"x": {"datum": 1290, "type": "quantitative", "scale": {"domain": [0, 1978], "range": [-355, 1623], "nice": false, "zero": false}, "axis": null}, "y": {"datum": 964, "type": "quantitative", "scale": {"domain": [0, 2560], "range": [-397, 2163], "nice": false, "zero": false}, "axis": null}}},
      {"mark": {"type": "text", "text": "图 3. 增益图", "align": "center", "baseline": "middle", "fontSize": 33, "fontWeight": "bold", "font": "Lato, Noto Sans CJK SC", "color": "#222222"},
       "encoding": {"x": {"datum": 597, "type": "quantitative", "scale": {"domain": [0, 1978], "range": [-355, 1623], "nice": false, "zero": false}, "axis": null}, "y": {"datum": 1593, "type": "quantitative", "scale": {"domain": [0, 2560], "range": [-397, 2163], "nice": false, "zero": false}, "axis": null}}},
      {"mark": {"type": "text", "text": "图 4. 输出误差与 Vsense", "align": "center", "baseline": "middle", "fontSize": 33, "fontWeight": "bold", "font": "Lato, Noto Sans CJK SC", "color": "#222222"},
       "encoding": {"x": {"datum": 1386, "type": "quantitative", "scale": {"domain": [0, 1978], "range": [-355, 1623], "nice": false, "zero": false}, "axis": null}, "y": {"datum": 1593, "type": "quantitative", "scale": {"domain": [0, 2560], "range": [-397, 2163], "nice": false, "zero": false}, "axis": null}}},
      {"mark": {"type": "text", "text": "图 5. 输出误差与共模电压的关系", "align": "center", "baseline": "middle", "fontSize": 33, "fontWeight": "bold", "font": "Lato, Noto Sans CJK SC", "color": "#222222"},
       "encoding": {"x": {"datum": 597, "type": "quantitative", "scale": {"domain": [0, 1978], "range": [-355, 1623], "nice": false, "zero": false}, "axis": null}, "y": {"datum": 2224, "type": "quantitative", "scale": {"domain": [0, 2560], "range": [-397, 2163], "nice": false, "zero": false}, "axis": null}}},
      {"mark": {"type": "text", "text": "图 6. 正输出电压摆幅与 输出电流", "align": "center", "baseline": "middle", "fontSize": 33, "fontWeight": "bold", "font": "Lato, Noto Sans CJK SC", "color": "#222222"},
       "encoding": {"x": {"datum": 1386, "type": "quantitative", "scale": {"domain": [0, 1978], "range": [-355, 1623], "nice": false, "zero": false}, "axis": null}, "y": {"datum": 2224, "type": "quantitative", "scale": {"domain": [0, 2560], "range": [-397, 2163], "nice": false, "zero": false}, "axis": null}}},
      {"mark": {"type": "text", "text": "V", "align": "left", "baseline": "alphabetic", "angle": 270, "fontSize": 28, "font": "Lato", "color": "#404040"},
       "encoding": {"x": {"datum": 258, "type": "quantitative", "scale": {"domain": [0, 1978], "range": [-355, 1623], "nice": false, "zero": false}, "axis": null}, "y": {"datum": 1300, "type": "quantitative", "scale": {"domain": [0, 2560], "range": [-397, 2163], "nice": false, "zero": false}, "axis": null}}},
      {"mark": {"type": "text", "text": "OUT", "align": "left", "baseline": "alphabetic", "angle": 270, "fontSize": 19, "font": "Lato", "color": "#404040"},
       "encoding": {"x": {"datum": 264, "type": "quantitative", "scale": {"domain": [0, 1978], "range": [-355, 1623], "nice": false, "zero": false}, "axis": null}, "y": {"datum": 1282, "type": "quantitative", "scale": {"domain": [0, 2560], "range": [-397, 2163], "nice": false, "zero": false}, "axis": null}}},
      {"mark": {"type": "text", "text": "(V)", "align": "left", "baseline": "alphabetic", "angle": 270, "fontSize": 28, "font": "Lato", "color": "#404040"},
       "encoding": {"x": {"datum": 258, "type": "quantitative", "scale": {"domain": [0, 1978], "range": [-355, 1623], "nice": false, "zero": false}, "axis": null}, "y": {"datum": 1236, "type": "quantitative", "scale": {"domain": [0, 2560], "range": [-397, 2163], "nice": false, "zero": false}, "axis": null}}},
      {"mark": {"type": "text", "text": "V", "align": "left", "baseline": "alphabetic", "fontSize": 28, "font": "Lato", "color": "#404040"},
       "encoding": {"x": {"datum": 540, "type": "quantitative", "scale": {"domain": [0, 1978], "range": [-355, 1623], "nice": false, "zero": false}, "axis": null}, "y": {"datum": 1549, "type": "quantitative", "scale": {"domain": [0, 2560], "range": [-397, 2163], "nice": false, "zero": false}, "axis": null}}},
      {"mark": {"type": "text", "text": "DIFFERENTIAL", "align": "left", "baseline": "alphabetic", "fontSize": 20, "font": "Lato", "color": "#404040"},
       "encoding": {"x": {"datum": 559, "type": "quantitative", "scale": {"domain": [0, 1978], "range": [-355, 1623], "nice": false, "zero": false}, "axis": null}, "y": {"datum": 1555, "type": "quantitative", "scale": {"domain": [0, 2560], "range": [-397, 2163], "nice": false, "zero": false}, "axis": null}}},
      {"mark": {"type": "text", "text": "(mV)", "align": "left", "baseline": "alphabetic", "fontSize": 28, "font": "Lato", "color": "#404040"},
       "encoding": {"x": {"datum": 700, "type": "quantitative", "scale": {"domain": [0, 1978], "range": [-355, 1623], "nice": false, "zero": false}, "axis": null}, "y": {"datum": 1549, "type": "quantitative", "scale": {"domain": [0, 2560], "range": [-397, 2163], "nice": false, "zero": false}, "axis": null}}},
      {"mark": {"type": "text", "text": "V", "align": "left", "baseline": "alphabetic", "fontSize": 28, "font": "Lato", "color": "#404040"},
       "encoding": {"x": {"datum": 1364, "type": "quantitative", "scale": {"domain": [0, 1978], "range": [-355, 1623], "nice": false, "zero": false}, "axis": null}, "y": {"datum": 1549, "type": "quantitative", "scale": {"domain": [0, 2560], "range": [-397, 2163], "nice": false, "zero": false}, "axis": null}}},
      {"mark": {"type": "text", "text": "SENSE", "align": "left", "baseline": "alphabetic", "fontSize": 20, "font": "Lato", "color": "#404040"},
       "encoding": {"x": {"datum": 1383, "type": "quantitative", "scale": {"domain": [0, 1978], "range": [-355, 1623], "nice": false, "zero": false}, "axis": null}, "y": {"datum": 1555, "type": "quantitative", "scale": {"domain": [0, 2560], "range": [-397, 2163], "nice": false, "zero": false}, "axis": null}}},
      {"mark": {"type": "text", "text": "(mV)", "align": "left", "baseline": "alphabetic", "fontSize": 28, "font": "Lato", "color": "#404040"},
       "encoding": {"x": {"datum": 1450, "type": "quantitative", "scale": {"domain": [0, 1978], "range": [-355, 1623], "nice": false, "zero": false}, "axis": null}, "y": {"datum": 1549, "type": "quantitative", "scale": {"domain": [0, 2560], "range": [-397, 2163], "nice": false, "zero": false}, "axis": null}}},
      {"mark": {"type": "text", "text": "Output Error", "align": "center", "baseline": "middle", "angle": 270, "fontSize": 28, "font": "Lato", "color": "#404040"},
       "encoding": {"x": {"datum": 1033, "type": "quantitative", "scale": {"domain": [0, 1978], "range": [-355, 1623], "nice": false, "zero": false}, "axis": null}, "y": {"datum": 1251, "type": "quantitative", "scale": {"domain": [0, 2560], "range": [-397, 2163], "nice": false, "zero": false}, "axis": null}}},
      {"mark": {"type": "text", "text": "(% error of the ideal output value)", "align": "center", "baseline": "middle", "angle": 270, "fontSize": 28, "font": "Lato", "color": "#404040"},
       "encoding": {"x": {"datum": 1071, "type": "quantitative", "scale": {"domain": [0, 1978], "range": [-355, 1623], "nice": false, "zero": false}, "axis": null}, "y": {"datum": 1252, "type": "quantitative", "scale": {"domain": [0, 2560], "range": [-397, 2163], "nice": false, "zero": false}, "axis": null}}},
      {"mark": {"type": "rule", "color": "black", "strokeWidth": 5},
       "encoding": {"x": {"datum": 199, "type": "quantitative", "scale": {"domain": [0, 1978], "range": [-355, 1623], "nice": false, "zero": false}, "axis": null}, "x2": {"datum": 1782}, "y": {"datum": 2420, "type": "quantitative", "scale": {"domain": [0, 2560], "range": [-397, 2163], "nice": false, "zero": false}, "axis": null}}},
      {"mark": {"type": "text", "text": "11/ 25", "align": "center", "baseline": "middle", "fontSize": 28, "fontWeight": "bold", "font": "Lato", "color": "black"},
       "encoding": {"x": {"datum": 997, "type": "quantitative", "scale": {"domain": [0, 1978], "range": [-355, 1623], "nice": false, "zero": false}, "axis": null}, "y": {"datum": 2446, "type": "quantitative", "scale": {"domain": [0, 2560], "range": [-397, 2163], "nice": false, "zero": false}, "axis": null}}},
      {"mark": {"type": "text", "text": "www.tailianxin.cn", "align": "right", "baseline": "middle", "fontSize": 27, "fontWeight": "bold", "font": "Lato", "color": "black"},
       "encoding": {"x": {"datum": 1781, "type": "quantitative", "scale": {"domain": [0, 1978], "range": [-355, 1623], "nice": false, "zero": false}, "axis": null}, "y": {"datum": 2446, "type": "quantitative", "scale": {"domain": [0, 2560], "range": [-397, 2163], "nice": false, "zero": false}, "axis": null}}}
     ]
    }
   ]
  },
  {
   "width": 588, "height": 450,
   "data": {"name": "fig2"},
   "mark": {"type": "line", "color": "black", "strokeWidth": 4},
   "encoding": {
    "x": {"field": "frequency_hz", "type": "quantitative", "scale": {"type": "log", "domain": [10000, 1000000], "nice": false}, "axis": {"values": [10000,20000,30000,40000,50000,60000,70000,80000,90000,100000,200000,300000,400000,500000,600000,700000,800000,900000,1000000], "labelExpr": "datum.value == 10000 ? '10K' : datum.value == 100000 ? '100K' : datum.value == 1000000 ? '1M' : ''", "title": "Frequency (Hz)"}},
    "y": {"field": "gain_db", "type": "quantitative", "scale": {"domain": [0, 30], "nice": false}, "axis": {"values": [0,5,10,15,20,25,30], "title": "Gain (dB)", "titlePadding": 44}}
   }
  },
  {
   "width": 588, "height": 450,
   "data": {"name": "fig3"},
   "mark": {"type": "line", "color": "black", "strokeWidth": 4, "interpolate": "monotone"},
   "encoding": {
    "x": {"field": "v_diff_mv", "type": "ordinal", "scale": {"type": "point", "padding": 0}, "axis": {"labelAngle": 0, "title": null}},
    "y": {"field": "vout_v", "type": "quantitative", "scale": {"domain": [0, 20], "nice": false}, "axis": {"values": [0,2,4,6,8,10,12,14,16,18,20], "title": null}}
   }
  },
  {
   "width": 588, "height": 450,
   "data": {"name": "fig4"},
   "mark": {"type": "line", "color": "black", "strokeWidth": 4, "interpolate": "monotone"},
   "encoding": {
    "x": {"field": "vsense_mv", "type": "quantitative", "scale": {"domain": [0, 500], "nice": false}, "axis": {"values": [0,50,100,150,200,250,300,350,400,450,500], "title": null}},
    "y": {"field": "error_pct", "type": "quantitative", "scale": {"domain": [0, 5], "nice": false}, "axis": {"values": [0,0.5,1,1.5,2,2.5,3,3.5,4,4.5,5], "format": "~g", "title": null}}
   }
  },
  {
   "width": 588, "height": 450,
   "data": {"name": "fig5"},
   "mark": {"type": "line", "color": "black", "strokeWidth": 4.5},
   "encoding": {
    "x": {"field": "cm_v", "type": "quantitative", "scale": {"domain": [-16, 110], "nice": false, "zero": false}, "axis": {"values": [-16,-2,12,26,40,54,68,82,96,110], "labelExpr": "'' + datum.value", "title": "Common-Mode Voltage (V)"}},
    "y": {"field": "error_pct", "type": "quantitative", "scale": {"domain": [0, 0.4], "nice": false}, "axis": {"values": [0,0.05,0.1,0.15,0.2,0.25,0.3,0.35,0.4], "format": "~g", "title": "Output Error  (%)", "titlePadding": 22}}
   }
  },
  {
   "width": 588, "height": 450,
   "layer": [
    {"data": {"values": [{}]}, "mark": {"type": "rect", "fill": "white"}, "encoding": {"x": {"datum": 0.15}, "x2": {"datum": 14.7}, "y": {"datum": 5.0}, "y2": {"datum": 9.1}}},
    {"data": {"values": [{}]}, "mark": {"type": "rect", "fill": "white"}, "encoding": {"x": {"datum": 16.8}, "x2": {"datum": 26.0}, "y": {"datum": 11.2}, "y2": {"datum": 13.7}}},
    {"data": {"values": [{}]}, "mark": {"type": "rect", "fill": "white"}, "encoding": {"x": {"datum": 0.6}, "x2": {"datum": 10.1}, "y": {"datum": -1.95}, "y2": {"datum": -0.08}}},
    {"data": {"values": [{}]}, "mark": {"type": "text", "text": "Output stage is designed to", "align": "left", "baseline": "middle", "fontSize": 22.5, "font": "Lato", "color": "#262626"}, "encoding": {"x": {"datum": 0.36}, "y": {"datum": 8.81}}},
    {"data": {"values": [{}]}, "mark": {"type": "text", "text": "source current. Current", "align": "left", "baseline": "middle", "fontSize": 22.5, "font": "Lato", "color": "#262626"}, "encoding": {"x": {"datum": 0.36}, "y": {"datum": 7.7}}},
    {"data": {"values": [{}]}, "mark": {"type": "text", "text": "sinking capability is", "align": "left", "baseline": "middle", "fontSize": 22.5, "font": "Lato", "color": "#262626"}, "encoding": {"x": {"datum": 0.36}, "y": {"datum": 6.6}}},
    {"data": {"values": [{}]}, "mark": {"type": "text", "text": "approximately 400 µA.", "align": "left", "baseline": "middle", "fontSize": 22.5, "font": "Lato", "color": "#262626"}, "encoding": {"x": {"datum": 0.36}, "y": {"datum": 5.5}}},
    {"data": {"values": [{}]}, "mark": {"type": "text", "text": "V", "align": "left", "baseline": "alphabetic", "fontSize": 22, "font": "Lato", "color": "#262626"}, "encoding": {"x": {"datum": 16.85}, "y": {"datum": 12.35}}},
    {"data": {"values": [{}]}, "mark": {"type": "text", "text": "S", "align": "left", "baseline": "alphabetic", "fontSize": 15, "font": "Lato", "color": "#262626"}, "encoding": {"x": {"datum": 17.64}, "y": {"datum": 12.15}}},
    {"data": {"values": [{}]}, "mark": {"type": "text", "text": "= 12 V", "align": "left", "baseline": "alphabetic", "fontSize": 22, "font": "Lato", "color": "#262626"}, "encoding": {"x": {"datum": 18.3}, "y": {"datum": 12.35}}},
    {"data": {"values": [{}]}, "mark": {"type": "text", "text": "Sourcing Current", "align": "left", "baseline": "alphabetic", "fontSize": 22, "font": "Lato", "color": "#262626"}, "encoding": {"x": {"datum": 16.85}, "y": {"datum": 11.32}}},
    {"data": {"values": [{}]}, "mark": {"type": "text", "text": "V", "align": "left", "baseline": "alphabetic", "fontSize": 22, "font": "Lato", "color": "#262626"}, "encoding": {"x": {"datum": 0.96}, "y": {"datum": -0.8}}},
    {"data": {"values": [{}]}, "mark": {"type": "text", "text": "S", "align": "left", "baseline": "alphabetic", "fontSize": 15, "font": "Lato", "color": "#262626"}, "encoding": {"x": {"datum": 1.75}, "y": {"datum": -1.0}}},
    {"data": {"values": [{}]}, "mark": {"type": "text", "text": "= 4 V", "align": "left", "baseline": "alphabetic", "fontSize": 22, "font": "Lato", "color": "#262626"}, "encoding": {"x": {"datum": 2.45}, "y": {"datum": -0.8}}},
    {"data": {"values": [{}]}, "mark": {"type": "text", "text": "Sourcing Current", "align": "left", "baseline": "alphabetic", "fontSize": 22, "font": "Lato", "color": "#262626"}, "encoding": {"x": {"datum": 0.96}, "y": {"datum": -1.85}}},
    {
     "data": {"name": "fig6"},
     "mark": {"type": "line", "strokeWidth": 4, "interpolate": "monotone"},
     "encoding": {
      "x": {"field": "current_ma", "type": "quantitative", "scale": {"domain": [0, 30], "nice": false}, "axis": {"values": [0,5,10,15,20,25,30], "title": "Output Current (mA)"}},
      "y": {"field": "voltage_v", "type": "quantitative", "scale": {"domain": [-4, 14], "nice": false, "zero": false}, "axis": {"values": [-4,-2,0,2,4,6,8,10,12,14], "labelExpr": "'' + datum.value", "title": "Output Voltage (V)", "titlePadding": 44}},
      "color": {"field": "temp", "type": "nominal", "scale": {"domain": ["-40°C", "25°C", "85°C", "125°C"], "range": ["#FFC000", "#000000", "#92D050", "#C00000"]}, "legend": {"title": null, "orient": "bottom-right", "direction": "horizontal", "offset": 6, "columns": 2, "symbolType": "stroke", "symbolSize": 4225, "symbolStrokeWidth": 5, "symbolOffset": 6, "clipHeight": 28, "labelOffset": 9, "labelFontSize": 25, "labelColor": "#333333", "fillColor": "white", "strokeColor": "#222222", "padding": 4, "columnPadding": 21, "rowPadding": 2}},
      "detail": {"field": "supply", "type": "nominal"}
     }
    }
   ]
  }
 ]
}
